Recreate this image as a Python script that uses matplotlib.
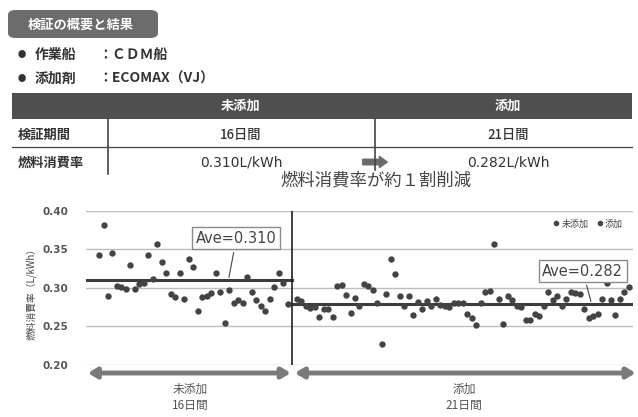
import numpy as np
import matplotlib
matplotlib.use("Agg")
import matplotlib.pyplot as plt
from matplotlib.lines import Line2D
from matplotlib.patches import Rectangle, FancyBboxPatch, FancyArrowPatch

plt.rcParams['font.family'] = ['Noto Sans CJK JP', 'DejaVu Sans']

# fuel consumption rate (L/kWh)
before = [0.343, 0.381, 0.289, 0.345, 0.303, 0.301, 0.298, 0.330, 0.299, 0.305,
          0.306, 0.343, 0.312, 0.357, 0.333, 0.319, 0.292, 0.288, 0.319, 0.286,
          0.337, 0.327, 0.270, 0.288, 0.289, 0.293, 0.319, 0.295, 0.255, 0.297,
          0.280, 0.284, 0.281, 0.314, 0.295, 0.284, 0.277, 0.270, 0.285, 0.301,
          0.319, 0.306, 0.279]
after = [0.285, 0.283, 0.276, 0.274, 0.275, 0.262, 0.272, 0.273, 0.262, 0.302,
         0.304, 0.291, 0.267, 0.287, 0.276, 0.305, 0.303, 0.297, 0.281, 0.227,
         0.292, 0.337, 0.318, 0.289, 0.276, 0.289, 0.265, 0.282, 0.272, 0.283,
         0.276, 0.286, 0.278, 0.276, 0.275, 0.280, 0.281, 0.281, 0.266, 0.261,
         0.252, 0.280, 0.295, 0.296, 0.357, 0.286, 0.253, 0.289, 0.284, 0.276,
         0.275, 0.258, 0.258, 0.266, 0.263, 0.276, 0.294, 0.284, 0.289, 0.276,
         0.286, 0.295, 0.293, 0.292, 0.273, 0.261, 0.264, 0.266, 0.286, 0.306,
         0.284, 0.265, 0.286, 0.294, 0.301]
ave_labels = ['Ave=0.310', 'Ave=0.282']
ave_lines = [0.310, 0.279]
series_names = ['未添加', '添加']
periods = ['16日間', '21日間']
rates = ['0.310L/kWh', '0.282L/kWh']
yticks = [0.20, 0.25, 0.30, 0.35, 0.40]

W, H = 638, 417
def fx(x): return x / W
def fy(y): return 1 - y / H

fig = plt.figure(figsize=(W / 100, H / 100), dpi=100)
dark = '#333333'

# ---------------- header / table ----------------
fig.add_artist(FancyBboxPatch((fx(8), fy(38)), fx(150), 28 / H, transform=fig.transFigure,
                              boxstyle='round,pad=0,rounding_size=0.012', fc='#6c6c6c', ec='none'))
fig.text(fx(28), fy(25), '検証の概要と結果', color='white', fontsize=9.5, fontweight='bold', va='center')

for yy, lab, val in [(55, '作業船', '：ＣＤＭ船'), (79, '添加剤', '：ECOMAX（VJ）')]:
    fig.text(fx(18), fy(yy), '●', fontsize=6, color=dark, va='center')
    fig.text(fx(35), fy(yy), lab, fontsize=10, color=dark, fontweight='bold', va='center')
    fig.text(fx(98), fy(yy), val, fontsize=10, color=dark, fontweight='bold', va='center')

fig.add_artist(Rectangle((fx(12), fy(119)), fx(620), 26 / H, transform=fig.transFigure,
                         fc='#4f4f4f', ec='none'))
col_x = [241, 508]
for cx, name in zip(col_x, series_names):
    fig.text(fx(cx), fy(106), name, color='white', fontsize=9.5, fontweight='bold', ha='center', va='center')
fig.text(fx(18), fy(135), '検証期間', fontsize=9.5, color=dark, fontweight='bold', va='center')
fig.text(fx(18), fy(163), '燃料消費率', fontsize=9.5, color=dark, fontweight='bold', va='center')
for cx, p, r in zip(col_x, periods, rates):
    fig.text(fx(cx), fy(135), p, fontsize=9.5, color=dark, ha='center', va='center', fontweight='medium')
    fig.text(fx(cx), fy(163), r, fontsize=10, color=dark, ha='center', va='center', family='DejaVu Sans')
fig.add_artist(Line2D([fx(12), fx(632)], [fy(147), fy(147)], color='#444444', lw=0.9))
fig.add_artist(Line2D([fx(108), fx(108)], [fy(119), fy(174)], color='#444444', lw=1.2))
fig.add_artist(Line2D([fx(375), fx(375)], [fy(119), fy(170)], color='#444444', lw=1.2))
fig.add_artist(FancyArrowPatch((fx(360), fy(162)), (fx(390), fy(162)), transform=fig.transFigure,
                               arrowstyle='simple,head_length=0.7,head_width=1.0,tail_width=0.5',
                               mutation_scale=8, color='#6a6a6a'))
fig.text(fx(376), fy(181), '燃料消費率が約１割削減', fontsize=12.5, color='#444444', ha='center', va='center')

# ---------------- scatter chart ----------------
ax = fig.add_axes([fx(86), fy(365), fx(633) - fx(86), (365 - 210.7) / H])
x1 = np.arange(len(before))
x2 = np.arange(len(after)) + len(before) + 1
split = len(before)
xmin, xmax = -2.9, 118.9
ax.set_xlim(xmin, xmax)
ax.set_ylim(0.20, 0.40)
ax.set_yticks(yticks)
ax.set_yticklabels([f'{v:.2f}' for v in yticks], fontsize=7.5, color='#555555', fontweight='bold',
                   family='DejaVu Sans')
ax.tick_params(axis='y', length=0, pad=13)
ax.set_xticks([])
for s in ax.spines.values():
    s.set_visible(False)
ax.grid(axis='y', color='#bdbdbd', lw=1)
ax.set_axisbelow(True)

ax.scatter(x1, before, s=21, color='#434343', zorder=3, lw=0)
ax.scatter(x2, after, s=21, color='#434343', zorder=3, lw=0)
ax.plot([xmin, split], [ave_lines[0]] * 2, color='#3c3c3c', lw=2.2, zorder=2)
ax.plot([split, xmax], [ave_lines[1]] * 2, color='#3c3c3c', lw=2.2, zorder=2)
ax.axvline(split, color='#222222', lw=1.2, zorder=2)

bbox = dict(boxstyle='square,pad=0.25', fc='white', ec='#8a8a8a', lw=1)
ax.annotate(ave_labels[0], xy=(28.8, ave_lines[0]), xytext=(30.6, 0.3645), ha='center', va='center',
            fontsize=10.5, color='#444444', family='DejaVu Sans', bbox=bbox,
            arrowprops=dict(arrowstyle='-', color='#444444', lw=0.8), zorder=4)
ax.annotate(ave_labels[1], xy=(109.7, ave_lines[1]), xytext=(107.7, 0.3218), ha='center', va='center',
            fontsize=10.5, color='#444444', family='DejaVu Sans', bbox=bbox,
            arrowprops=dict(arrowstyle='-', color='#444444', lw=0.8), zorder=4)

handles = [Line2D([], [], marker='o', ls='none', color='#454545', markersize=3) for _ in series_names]
ax.legend(handles, series_names, loc='center right', bbox_to_anchor=(0.99, 0.914), ncol=2,
          frameon=False, fontsize=6.5, handletextpad=0.2, columnspacing=0.8, handlelength=0.8,
          borderpad=0, labelcolor='#444444')

fig.text(fx(31), fy(292), '燃料消費率（L/kWh）', rotation=90, fontsize=7, color='#444444',
         ha='center', va='center')

# period arrows and labels under the chart
trans = ax.get_xaxis_transform()
for a, b in [(-2.5, split - 0.3), (split + 0.6, 119.5)]:
    ax.annotate('', xy=(b, -0.052), xytext=(a, -0.052), xycoords=trans, textcoords=trans,
                arrowprops=dict(arrowstyle='<|-|>,head_length=0.5,head_width=0.3', lw=3.5,
                                color='#7a7a7a', shrinkA=0, shrinkB=0), annotation_clip=False)
for cx, name, p in zip([(-2.5 + split) / 2, (split + 119.5) / 2], series_names, periods):
    ax.text(cx, -0.155, name, transform=trans, ha='center', va='center', fontsize=8.5, color='#555555')
    ax.text(cx, -0.26, p, transform=trans, ha='center', va='center', fontsize=8.5, color='#555555')

fig.savefig('out.png', dpi=100, facecolor='white')
